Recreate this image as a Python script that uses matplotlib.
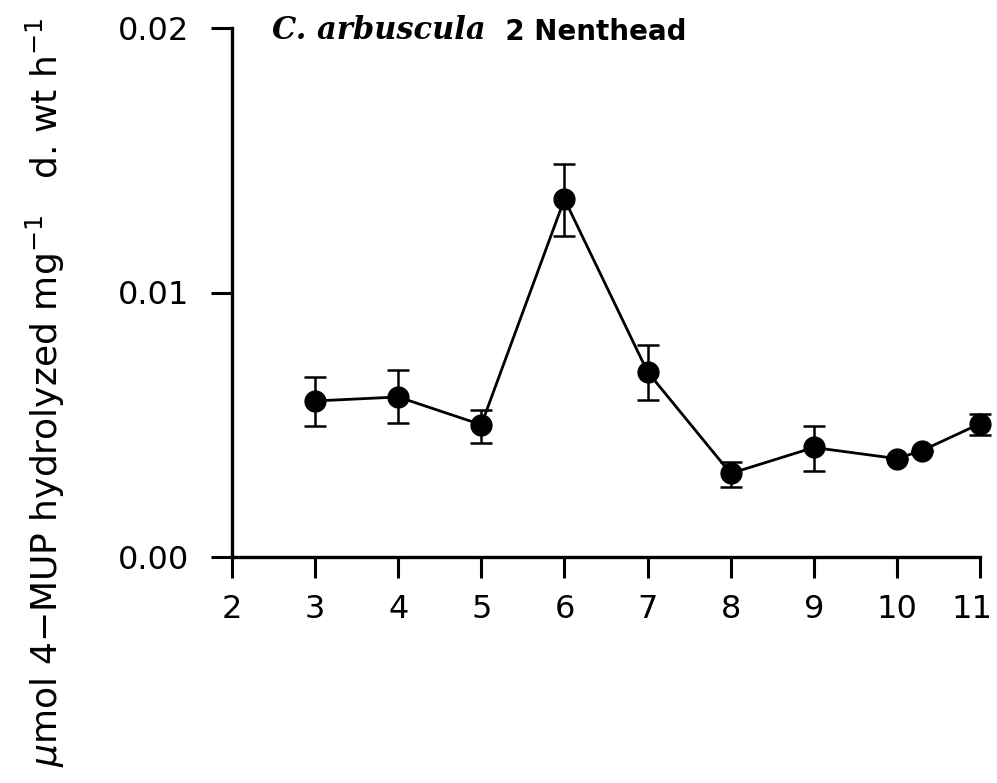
import numpy as np
import matplotlib
matplotlib.use('Agg')
import matplotlib.pyplot as plt
import matplotlib.transforms as mtransforms

# 数据
x_vals = [3, 4, 5, 6, 7, 8, 9, 10, 10.3, 11]
y_vals = [0.0059, 0.00605, 0.0050, 0.01353, 0.0070, 0.00316, 0.00414, 0.00372, 0.00402, 0.00504]
y_upper = [0.0068, 0.00707, 0.00556, 0.01485, 0.0080, 0.0036, 0.00496, 0.00372, 0.00402, 0.00541]
y_lower = [0.00496, 0.00508, 0.00432, 0.01214, 0.00594, 0.00263, 0.00327, 0.00372, 0.00402, 0.00462]
x_ticks = [2, 3, 4, 5, 6, 7, 8, 9, 10, 11]
y_ticks = [0.0, 0.01, 0.02]
y_ticklabels = ['0.00', '0.01', '0.02']

plt.rcParams['font.family'] = ['DejaVu Sans']

fig = plt.figure(figsize=(9.97, 7.83), dpi=100)
ax = fig.add_axes([232 / 997, 1 - 557 / 783, (980 - 232) / 997, (557 - 28) / 783])

y = np.array(y_vals)
yerr = np.array([y - np.array(y_lower), np.array(y_upper) - y])
ax.errorbar(x_vals, y_vals, yerr=yerr, fmt='-o', color='black', ecolor='black',
            markersize=15, linewidth=2, elinewidth=1.8, capsize=8, capthick=1.8,
            clip_on=False)

ax.set_xlim(2, 11)
ax.set_ylim(0, 0.02)
ax.set_xticks(x_ticks)
ax.set_yticks(y_ticks)
ax.set_yticklabels(y_ticklabels)
for s in ['top', 'right']:
    ax.spines[s].set_visible(False)
for s in ['left', 'bottom']:
    ax.spines[s].set_linewidth(2.4)
ax.tick_params(axis='both', direction='out', length=15, width=2.2, labelsize=23)
ax.tick_params(axis='x', pad=12)
ax.tick_params(axis='y', pad=16)

# 最后一个刻度标签 "11" 稍微左移, 避免被裁掉
last = ax.xaxis.get_major_ticks()[-1].label1
last.set_transform(last.get_transform() +
                   mtransforms.ScaledTranslation(-6 / 72, 0, fig.dpi_scale_trans))

# 标题 (斜体种名 + 站点)
t1 = fig.text(272 / 997, 1 - 39 / 783, 'C. arbuscula', fontsize=22,
              family='DejaVu Serif', style='italic', fontweight='bold',
              va='baseline', ha='left')
ax.annotate('  2 Nenthead', xy=(1, 0), xycoords=t1, fontsize=20, fontweight='bold',
            va='bottom', ha='left')

fig.text(45 / 997, 1 - 392 / 783,
         r'$\mu$mol 4$-$MUP hydrolyzed mg$^{-1}$   d. wt h$^{-1}$',
         rotation=90, ha='center', va='center', fontsize=26)

plt.savefig('out.png', dpi=100, facecolor='white')
